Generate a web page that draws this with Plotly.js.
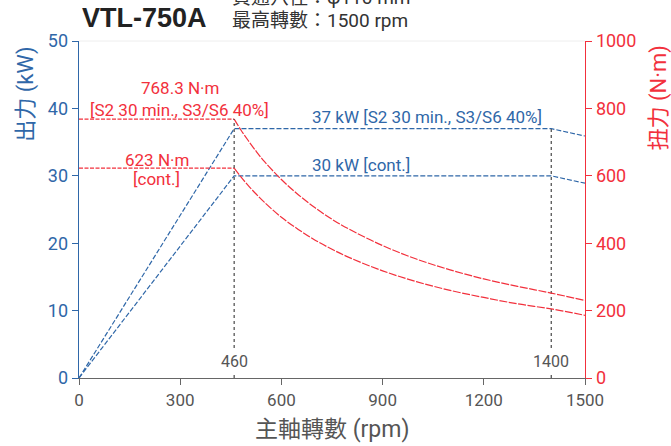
<!DOCTYPE html>
<html>
<head>
<meta charset="utf-8">
<script src="https://cdn.plot.ly/plotly-3.0.1.min.js"></script>
<style>html,body{margin:0;padding:0;background:#fff;}#chart{width:671px;height:446px;}</style>
</head>
<body>
<div id="chart"></div>
<script>
// ---- data ----
const powerRpm = [0, 460, 1400, 1500];
const powerS2 = [0, 37, 37, 35.9];      // kW, S2 30 min / S3/S6 40%
const powerCont = [0, 30, 30, 28.9];    // kW, continuous

const torqueRpm = [460, 480, 500, 525, 550, 600, 650, 700, 750, 800, 900, 1000, 1100, 1200, 1300, 1400, 1500];
const torqueS2 = [768.3, 736, 707, 673, 642, 589, 544, 505, 471, 442, 393, 353, 321, 294, 272, 252, 230];
const torqueCont = [623, 597, 573, 546, 521, 477, 441, 409, 382, 358, 318, 286, 260, 239, 220, 205, 186];

const flatRpm = [0, 460];
const flatS2 = [768.3, 768.3];
const flatCont = [623, 623];

const markRpm = [460, 1400];
const markTop = [768.3, 37];

const xTicks = [0, 300, 600, 900, 1200, 1500];

const BLUE = '#2f67a8';
const RED = '#f2303c';
const GRAY = '#555555';
const FONT = 'Roboto, "Noto Sans CJK TC", sans-serif';

const traces = [
  {x: powerRpm, y: powerS2, mode: 'lines', line: {color: BLUE, width: 1.2, dash: '5px,2px'}, yaxis: 'y'},
  {x: powerRpm, y: powerCont, mode: 'lines', line: {color: BLUE, width: 1.2, dash: '5px,2px'}, yaxis: 'y'},
  {x: flatRpm, y: flatS2, mode: 'lines', line: {color: RED, width: 1.2, dash: '4px,1.5px'}, yaxis: 'y2'},
  {x: flatRpm, y: flatCont, mode: 'lines', line: {color: RED, width: 1.2, dash: '4px,1.5px'}, yaxis: 'y2'},
  {x: torqueRpm, y: torqueS2, mode: 'lines', line: {color: RED, width: 1.2, dash: '8px,1.5px', shape: 'spline'}, yaxis: 'y2'},
  {x: torqueRpm, y: torqueCont, mode: 'lines', line: {color: RED, width: 1.2, dash: '8px,1.5px', shape: 'spline'}, yaxis: 'y2'},
  {x: [markRpm[0], markRpm[0]], y: [0, markTop[0]], mode: 'lines', line: {color: '#555', width: 1.3, dash: 'dot'}, yaxis: 'y2'},
  {x: [markRpm[1], markRpm[1]], y: [0, markTop[1]], mode: 'lines', line: {color: '#555', width: 1.3, dash: 'dot'}, yaxis: 'y'}
];

const annotations = [
  {xref: 'paper', yref: 'paper', x: 0.002, y: 1.068, xanchor: 'left', yanchor: 'middle', showarrow: false,
   text: '<b>VTL-750A</b>', font: {family: '"Liberation Sans", Arial, sans-serif', size: 27, color: '#222'}},
  {xref: 'paper', yref: 'paper', x: 0.298, y: 1.128, xanchor: 'left', yanchor: 'middle', showarrow: false,
   text: '貫通穴徑：φ110 mm', font: {family: FONT, size: 19, color: '#333'}},
  {xref: 'paper', yref: 'paper', x: 0.298, y: 1.062, xanchor: 'left', yanchor: 'middle', showarrow: false,
   text: '最高轉數：1500 rpm', font: {family: FONT, size: 19, color: '#333'}},
  // axis titles
  {xref: 'paper', yref: 'paper', x: -0.105, y: 0.843, xanchor: 'center', yanchor: 'middle', textangle: -90, showarrow: false,
   text: '出力 (kW)', font: {family: FONT, size: 22, color: BLUE}},
  {xref: 'paper', yref: 'paper', x: 1.146, y: 0.832, xanchor: 'center', yanchor: 'middle', textangle: -90, showarrow: false,
   text: '扭力 (N·m)', font: {family: FONT, size: 22, color: RED}},
  {xref: 'paper', yref: 'paper', x: 0.5, y: -0.154, xanchor: 'center', yanchor: 'middle', showarrow: false,
   text: '主軸轉數 (rpm)', font: {family: FONT, size: 23, color: GRAY}},
  // red labels
  {xref: 'x', yref: 'y2', x: 299, y: 860, showarrow: false, text: '768.3 N·m', font: {family: FONT, size: 17, color: RED}},
  {xref: 'x', yref: 'y2', x: 299, y: 795, showarrow: false, text: '[S2 30 min., S3/S6 40%]', font: {family: FONT, size: 17, color: RED}},
  {xref: 'x', yref: 'y2', x: 231, y: 647, showarrow: false, text: '623 N·m', font: {family: FONT, size: 17, color: RED}},
  {xref: 'x', yref: 'y2', x: 231, y: 590, showarrow: false, text: '[cont.]', font: {family: FONT, size: 17, color: RED}},
  // blue labels
  {xref: 'x', yref: 'y', x: 685, y: 38.7, xanchor: 'left', showarrow: false, text: '37 kW [S2 30 min., S3/S6 40%]', font: {family: FONT, size: 17, color: BLUE}},
  {xref: 'x', yref: 'y', x: 685, y: 31.6, xanchor: 'left', showarrow: false, text: '30 kW [cont.]', font: {family: FONT, size: 17, color: BLUE}},
  // rpm marks
  {xref: 'x', yref: 'y', x: markRpm[0], y: 2.5, showarrow: false, text: String(markRpm[0]), bgcolor: '#fff', font: {family: FONT, size: 16, color: GRAY}},
  {xref: 'x', yref: 'y', x: markRpm[1], y: 2.5, showarrow: false, text: String(markRpm[1]), bgcolor: '#fff', font: {family: FONT, size: 16, color: GRAY}}
];

const layout = {
  width: 671, height: 446,
  margin: {l: 79, r: 86, t: 41, b: 68, pad: 0},
  paper_bgcolor: '#fff', plot_bgcolor: '#fff',
  showlegend: false,
  xaxis: {range: [0, 1500], tickvals: xTicks, ticktext: xTicks.map(String), showgrid: false, zeroline: false,
          showline: true, linecolor: '#666', linewidth: 1.3, ticks: 'outside', ticklen: 6, tickcolor: '#666',
          tickfont: {family: FONT, size: 17, color: GRAY}, fixedrange: true},
  yaxis: {range: [0, 50], dtick: 10, showgrid: false, zeroline: false, showline: true, linecolor: BLUE, linewidth: 1.3,
          ticks: 'outside', ticklen: 6, tickcolor: BLUE, tickfont: {family: FONT, size: 18, color: BLUE}},
  yaxis2: {range: [0, 1000], dtick: 200, overlaying: 'y', side: 'right', showgrid: false, zeroline: false, showline: true,
           linecolor: RED, linewidth: 1.3, ticks: 'outside', ticklen: 6, tickcolor: RED, tickfont: {family: FONT, size: 18, color: RED}},
  shapes: [{type: 'line', xref: 'paper', yref: 'paper', x0: 0, x1: 1, y0: 1, y1: 1, line: {color: '#eeeeee', width: 1}}],
  annotations: annotations
};

Plotly.newPlot('chart', traces, layout, {displayModeBar: false, staticPlot: true});
</script>
</body>
</html>
